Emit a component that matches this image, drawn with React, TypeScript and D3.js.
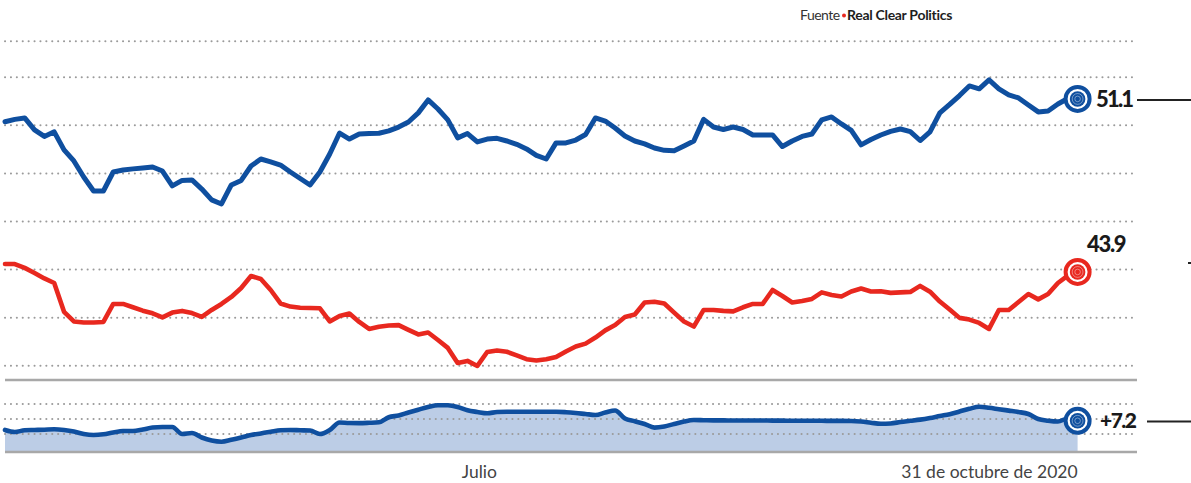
import React from "react";
import * as d3 from "d3";

// ---- data (every 2 days from 27 March 2020 to 31 October 2020) ----
const START = new Date(2020, 2, 27);
const END = new Date(2020, 9, 31);
const JULY = new Date(2020, 6, 1);

const biden: number[] = [
  50.15, 50.25, 50.31, 49.81, 49.54, 49.73, 48.98, 48.52, 47.85, 47.27,
  47.27, 48.06, 48.14, 48.19, 48.23, 48.27, 48.1, 47.48, 47.71, 47.73,
  47.35, 46.9, 46.73, 47.52, 47.71, 48.31, 48.6, 48.48, 48.35, 48.06,
  47.79, 47.52, 48.06, 48.81, 49.68, 49.43, 49.64, 49.66, 49.67, 49.77,
  49.93, 50.14, 50.52, 51.06, 50.68, 50.23, 49.48, 49.66, 49.31, 49.43,
  49.46, 49.35, 49.21, 49.02, 48.75, 48.6, 49.27, 49.27, 49.39, 49.62,
  50.31, 50.18, 49.89, 49.56, 49.35, 49.23, 49.06, 48.96, 48.94, 49.14,
  49.35, 50.25, 49.93, 49.83, 49.93, 49.83, 49.6, 49.6, 49.6, 49.12,
  49.35, 49.54, 49.64, 50.23, 50.35, 50.06, 49.79, 49.19, 49.41, 49.6,
  49.75, 49.85, 49.74, 49.37, 49.73, 50.52, 50.87, 51.24, 51.64, 51.52,
  51.89, 51.52, 51.27, 51.14, 50.85, 50.56, 50.6, 50.89, 51.12, 51.1,
];

const trump: number[] = [
  44.23, 44.23, 44.07, 43.86, 43.63, 43.44, 42.24, 41.84, 41.8, 41.8,
  41.82, 42.57, 42.57, 42.43, 42.29, 42.18, 42.01, 42.21, 42.28, 42.19,
  42.03, 42.32, 42.57, 42.86, 43.23, 43.73, 43.61, 43.15, 42.59, 42.46,
  42.41, 42.4, 42.39, 41.84, 42.07, 42.17, 41.82, 41.53, 41.62, 41.67,
  41.69, 41.49, 41.3, 41.38, 41.07, 40.74, 40.11, 40.2, 39.99, 40.57,
  40.63, 40.58, 40.43, 40.27, 40.22, 40.27, 40.36, 40.59, 40.8, 40.92,
  41.17, 41.47, 41.69, 42.03, 42.13, 42.63, 42.66, 42.59, 42.21, 41.84,
  41.63, 42.32, 42.32, 42.28, 42.26, 42.43, 42.57, 42.57, 43.15, 42.9,
  42.63, 42.69, 42.78, 43.05, 42.94, 42.88, 43.09, 43.21, 43.09, 43.1,
  43.03, 43.05, 43.07, 43.32, 43.08, 42.67, 42.34, 41.99, 41.92, 41.78,
  41.53, 42.32, 42.32, 42.65, 42.98, 42.76, 42.98, 43.44, 43.75, 43.9,
];

const spread: number[] = [
  5.67, 5.33, 5.62, 5.67, 5.72, 5.78, 5.67, 5.42, 5.0, 4.83,
  4.95, 5.25, 5.5, 5.5, 5.75, 6.08, 6.17, 6.17, 5.0, 5.17,
  4.42, 3.92, 3.72, 4.05, 4.42, 4.83, 5.1, 5.37, 5.62, 5.67,
  5.62, 5.58, 5.0, 5.67, 6.92, 6.83, 6.82, 6.87, 6.95, 7.8,
  8.08, 8.58, 9.05, 9.5, 9.8, 9.78, 9.5, 8.95, 8.67, 8.45,
  8.67, 8.72, 8.72, 8.72, 8.72, 8.7, 8.7, 8.63, 8.5, 8.33,
  8.17, 8.58, 8.92, 7.58, 7.12, 6.67, 6.07, 6.25, 6.67, 7.08,
  7.33, 7.3, 7.27, 7.27, 7.25, 7.25, 7.25, 7.25, 7.23, 7.23,
  7.2, 7.22, 7.2, 7.2, 7.18, 7.18, 7.17, 7.08, 6.88, 6.7,
  6.75, 7.0, 7.2, 7.4, 7.67, 8.0, 8.3, 8.75, 9.2, 9.53,
  9.37, 9.13, 8.9, 8.67, 8.33, 7.5, 7.22, 7.08, 7.58, 7.2,
];

const topGrid: number[] = [40, 42, 44, 46, 48, 50, 52, 53.5];
const bottomGrid: number[] = [5, 7.5, 10];
const xLabelJuly = "Julio";
const xLabelEnd = "31 de octubre de 2020";
const bidenLabel = "51.1";
const trumpLabel = "43.9";
const spreadLabel = "+7.2";
const sourceLead = "Fuente";
const sourceName = "Real Clear Politics";

const BLUE = "#0f4f9f";
const RED = "#e8281f";
const AREA = "#bccde6";
const GRID = "#9b9b9b";
const RULE = "#a8a8a8";
const FONT = "Lato, 'Open Sans', sans-serif";

const dates = biden.map((_, i) => d3.timeDay.offset(START, 2 * i));

function Target({ cx, cy, color }: { cx: number; cy: number; color: string }) {
  return (
    <g>
      <circle cx={cx} cy={cy} r={12} fill="#fff" stroke={color} strokeWidth={4} />
      <circle cx={cx} cy={cy} r={7.8} fill={color} />
      <circle cx={cx} cy={cy} r={5.4} fill="none" stroke="#fff" strokeOpacity={0.45} strokeWidth={0.9} />
      <circle cx={cx} cy={cy} r={2.8} fill="none" stroke="#fff" strokeOpacity={0.45} strokeWidth={0.9} />
    </g>
  );
}

export default function App() {
  const W = 1191;
  const H = 483;
  const x = d3.scaleTime().domain([START, END]).range([5, 1077.6]);
  const yTop = d3.scaleLinear().domain([40, 52]).range([365.7, 77.3]);
  const yBot = d3.scaleLinear().domain([2, 10]).range([452, 404]);

  const lineTop = d3
    .line<number>()
    .x((_, i) => x(dates[i]))
    .y((d) => yTop(d))
    .curve(d3.curveLinear);
  const lineBot = d3
    .line<number>()
    .x((_, i) => x(dates[i]))
    .y((d) => yBot(d))
    .curve(d3.curveMonotoneX);
  const areaBot = d3
    .area<number>()
    .x((_, i) => x(dates[i]))
    .y0(yBot(2))
    .y1((d) => yBot(d))
    .curve(d3.curveMonotoneX);

  const gx0 = 5;
  const gx1 = 1137;
  const last = biden.length - 1;
  const xe = x(dates[last]);

  return (
    <svg
      width={W}
      height={H}
      viewBox={`0 0 ${W} ${H}`}
      style={{ position: "absolute", left: 0, top: 0, background: "#fff" }}
      fontFamily={FONT}
    >
      <rect width={W} height={H} fill="#fff" />
      {/* source */}
      <text x={800} y={20} fontSize={14} style={{ fill: "#333" }} letterSpacing={-0.5}>
        {sourceLead}
      </text>
      <circle cx={844} cy={15.5} r={2} style={{ fill: RED }} />
      <text x={847} y={20} fontSize={14} fontWeight={700} style={{ fill: "#1e1e1e" }} letterSpacing={-0.3}>
        {sourceName}
      </text>

      {/* top grid */}
      {topGrid.map((g) => (
        <line
          key={"t" + g}
          x1={gx0}
          x2={gx1}
          y1={yTop(g)}
          y2={yTop(g)}
          stroke={GRID}
          strokeWidth={2}
          strokeDasharray="0.1 5.8"
          strokeLinecap="round"
        />
      ))}
      {/* separator */}
      <line x1={gx0} x2={gx1} y1={380} y2={380} stroke={RULE} strokeWidth={2.4} />

      {/* bottom panel */}
      <path d={areaBot(spread) || ""} fill={AREA} />
      {bottomGrid.map((g) => (
        <line
          key={"b" + g}
          x1={gx0}
          x2={gx1}
          y1={yBot(g)}
          y2={yBot(g)}
          stroke={GRID}
          strokeWidth={2}
          strokeDasharray="0.1 5.8"
          strokeLinecap="round"
        />
      ))}
      <line x1={gx0} x2={gx1} y1={yBot(2)} y2={yBot(2)} stroke={RULE} strokeWidth={2.4} />
      <path
        d={lineBot(spread) || ""}
        fill="none"
        stroke={BLUE}
        strokeWidth={4.6}
        strokeLinejoin="round"
        strokeLinecap="round"
      />

      {/* top lines */}
      <path
        d={lineTop(trump) || ""}
        fill="none"
        stroke={RED}
        strokeWidth={4.6}
        strokeLinejoin="round"
        strokeLinecap="round"
      />
      <path
        d={lineTop(biden) || ""}
        fill="none"
        stroke={BLUE}
        strokeWidth={5}
        strokeLinejoin="round"
        strokeLinecap="round"
      />

      {/* end markers */}
      <Target cx={xe} cy={yTop(biden[last])} color={BLUE} />
      <Target cx={xe} cy={yTop(trump[last])} color={RED} />
      <Target cx={xe} cy={yBot(spread[last])} color={BLUE} />

      {/* value labels */}
      <text
        x={1096}
        y={yTop(biden[last]) + 8}
        fontSize={22}
        fontWeight={900}
        fill="#1a1a1a"
        letterSpacing={-1.8}
      >
        {bidenLabel}
      </text>
      <line x1={1137} x2={1191} y1={100} y2={100} stroke="#222" strokeWidth={2} />
      <text
        x={1087}
        y={yTop(trump[last]) - 20}
        fontSize={22}
        fontWeight={900}
        fill="#1a1a1a"
        letterSpacing={-1.3}
      >
        {trumpLabel}
      </text>
      <line x1={1188} x2={1191} y1={263} y2={263} stroke="#222" strokeWidth={2} />
      <text
        x={1100}
        y={yBot(spread[last]) + 7.5}
        fontSize={21}
        fontWeight={900}
        fill="#1a1a1a"
        letterSpacing={-1.5}
      >
        {spreadLabel}
      </text>
      <line x1={1147} x2={1191} y1={421.5} y2={421.5} stroke="#222" strokeWidth={2} />

      {/* x labels */}
      <text x={x(JULY) + 2} y={478} fontSize={17.5} fill="#444" textAnchor="middle">
        {xLabelJuly}
      </text>
      <text x={x(END)} y={478} fontSize={17.5} fill="#444" textAnchor="end">
        {xLabelEnd}
      </text>
    </svg>
  );
}
